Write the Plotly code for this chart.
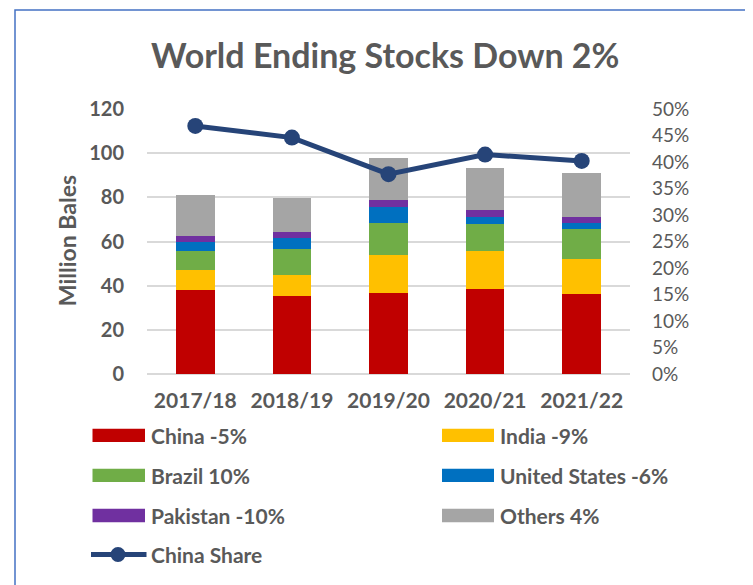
import plotly.graph_objects as go

years = ["2017/18", "2018/19", "2019/20", "2020/21", "2021/22"]
china = [37.9, 35.5, 36.7, 38.5, 36.4]
india = [9.2, 9.2, 17.1, 17.1, 15.7]
brazil = [8.7, 12.1, 14.5, 12.3, 13.5]
united_states = [4.0, 4.9, 7.1, 3.4, 3.0]
pakistan = [2.8, 2.5, 3.3, 2.8, 2.6]
others = [18.4, 15.6, 19.1, 19.0, 19.8]
china_share = [0.468, 0.446, 0.377, 0.414, 0.402]

series_names = ["China -5%", "India -9%", "Brazil 10%", "United States -6%", "Pakistan -10%", "Others 4%"]
series_values = [china, india, brazil, united_states, pakistan, others]
colors = ["#C00000", "#FFC000", "#70AD47", "#0070C0", "#7030A0", "#A5A5A5"]
line_name = "China Share"
line_color = "#264478"
txt = "#595959"
FONT = "Lato"

W, H = 753, 585
OFF = 8  # page body margin
# plot area in screen pixels
PX0, PX1 = 147, 630
PY0, PY1 = 109, 373.7
L = PX0 - OFF
T = PY0 - OFF
pw = PX1 - PX0
ph = PY1 - PY0
R = W - L - pw
B = H - T - ph

fig = go.Figure()
for name, vals, c in zip(series_names, series_values, colors):
    fig.add_trace(go.Bar(x=years, y=vals, name=name, marker=dict(color=c, line=dict(width=0)),
                         width=0.4, yaxis="y"))
fig.add_trace(go.Scatter(x=years, y=china_share, name=line_name, yaxis="y2", mode="lines+markers",
                         line=dict(color=line_color, width=5),
                         marker=dict(size=16, color=line_color)))

def px2paper(x, y):
    return (x - PX0) / pw, (PY1 - y) / ph

shapes = []
annotations = []
# border
x0, y0 = px2paper(15, 10)
x1, y1 = px2paper(800, 640)
shapes.append(dict(type="rect", xref="paper", yref="paper", x0=x0, y0=y1, x1=x1, y1=y0,
                   line=dict(color="#4472C4", width=1.5), fillcolor="rgba(0,0,0,0)", layer="below"))

# manual legend
rows_y = [435, 475, 515]
cols = [(92.5, 145, 149), (442, 494, 498)]
for i, (name, c) in enumerate(zip(series_names, colors)):
    row, col = divmod(i, 2)
    sx0, sx1, tx = cols[col]
    cy = rows_y[row]
    a0, b0 = px2paper(sx0, cy - 6.7)
    a1, b1 = px2paper(sx1, cy + 6.7)
    shapes.append(dict(type="rect", xref="paper", yref="paper", x0=a0, x1=a1, y0=b1, y1=b0,
                       fillcolor=c, line=dict(width=0)))
    ax, ay = px2paper(tx, cy)
    annotations.append(dict(xref="paper", yref="paper", x=ax, y=ay, text=name, showarrow=False,
                            xanchor="left", yanchor="middle",
                            font=dict(family=FONT, size=21, color=txt, weight="bold")))
cy = 554
a0, b0 = px2paper(91, cy)
a1, _ = px2paper(146.5, cy)
shapes.append(dict(type="line", xref="paper", yref="paper", x0=a0, x1=a1, y0=b0, y1=b0,
                   line=dict(color=line_color, width=5)))
c0, d0 = px2paper(110.5, cy - 7.5)
c1, d1 = px2paper(125.5, cy + 7.5)
shapes.append(dict(type="circle", xref="paper", yref="paper", x0=c0, x1=c1, y0=d1, y1=d0,
                   fillcolor=line_color, line=dict(width=0)))
ax, ay = px2paper(149, cy)
annotations.append(dict(xref="paper", yref="paper", x=ax, y=ay, text=line_name, showarrow=False,
                        xanchor="left", yanchor="middle",
                        font=dict(family=FONT, size=21, color=txt, weight="bold")))

# title
tx, ty = px2paper(385, 55)
annotations.append(dict(xref="paper", yref="paper", x=tx, y=ty, text="World Ending Stocks Down 2%",
                        showarrow=False, xanchor="center", yanchor="middle",
                        font=dict(family=FONT, size=34, color=txt, weight="bold")))
# y axis title
tx, ty = px2paper(67, 241)
annotations.append(dict(xref="paper", yref="paper", x=tx, y=ty, text="Million Bales", textangle=-90,
                        showarrow=False, xanchor="center", yanchor="middle",
                        font=dict(family=FONT, size=23, color=txt, weight="bold")))

fig.update_layout(
    width=W, height=H, barmode="stack", showlegend=False,
    margin=dict(l=L, r=R, t=T, b=B),
    paper_bgcolor="white", plot_bgcolor="white",
    font=dict(family=FONT, color=txt),
    xaxis=dict(type="category", showgrid=False, showline=False, ticks="",
               tickfont=dict(family=FONT, size=21, color=txt, weight="bold"),
               range=[-0.5, 4.5], ticklabelstandoff=12),
    yaxis=dict(range=[0, 120], dtick=20, showgrid=True, gridcolor="#D9D9D9", gridwidth=1.5,
               zeroline=True, zerolinecolor="#D9D9D9", zerolinewidth=1.5, showline=False, ticks="",
               tickfont=dict(family=FONT, size=20, color=txt, weight="bold"), ticklabelstandoff=22),
    yaxis2=dict(range=[0, 0.5], dtick=0.05, tickformat=".0%", overlaying="y", side="right",
                showgrid=False, zeroline=False, showline=False, ticks="",
                tickfont=dict(family=FONT, size=19, color=txt), ticklabelstandoff=21),
    shapes=shapes, annotations=annotations,
)

fig.write_html("out.html")
